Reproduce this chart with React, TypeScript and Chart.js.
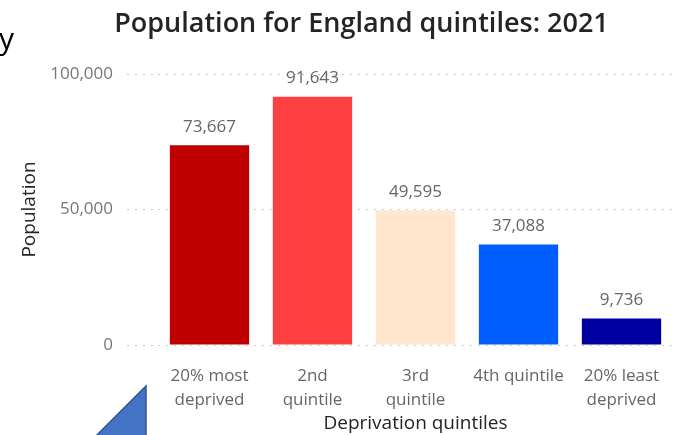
import React, { useEffect, useRef } from "react";
import { Chart, registerables } from "chart.js";

Chart.register(...registerables);

const TITLE = "Population for England quintiles: 2021";
const Y_TITLE = "Population";
const X_TITLE = "Deprivation quintiles";
const categories: string[][] = [
  ["20% most", "deprived"],
  ["2nd", "quintile"],
  ["3rd", "quintile"],
  ["4th quintile"],
  ["20% least", "deprived"],
];
const population = [73667, 91643, 49595, 37088, 9736];
const barColors = ["#C00000", "#FF4040", "#FFE6CC", "#005EFF", "#0000A0"];
const yMin = 0;
const yMax = 100000;
const yStep = 50000;

const FONT = "'Open Sans', 'Noto Sans', sans-serif";
const fmt = (v: number) => v.toLocaleString("en-US");

const valueLabels = {
  id: "valueLabels",
  afterDatasetsDraw(chart: any) {
    const ctx = chart.ctx;
    const meta = chart.getDatasetMeta(0);
    ctx.save();
    ctx.font = `17px ${FONT}`;
    ctx.fillStyle = "#666666";
    ctx.textAlign = "center";
    ctx.textBaseline = "middle";
    meta.data.forEach((bar: any, i: number) => {
      ctx.fillText(fmt(population[i]), bar.x, bar.y - 18);
    });
    ctx.restore();
  },
};

const offsetTitle = {
  id: "offsetTitle",
  afterDraw(chart: any) {
    const ctx = chart.ctx;
    ctx.save();
    ctx.font = `600 27px ${FONT}`;
    ctx.fillStyle = "#252423";
    ctx.textAlign = "center";
    ctx.textBaseline = "middle";
    ctx.fillText(TITLE, chart.width / 2 + 22, 24);
    ctx.restore();
  },
};

export default function App() {
  const ref = useRef<HTMLCanvasElement | null>(null);

  useEffect(() => {
    if (!ref.current) return;
    const chart = new Chart(ref.current, {
      type: "bar",
      data: {
        labels: categories,
        datasets: [
          {
            label: Y_TITLE,
            data: population,
            backgroundColor: barColors,
            borderWidth: 0,
            categoryPercentage: 1,
            barPercentage: 0.77,
          },
        ],
      },
      options: {
        animation: false,
        responsive: true,
        maintainAspectRatio: false,
        layout: { padding: { left: 0, right: 6, top: 74, bottom: 0 } },
        plugins: {
          legend: { display: false },
          tooltip: { enabled: false },
          title: { display: false },
        },
        scales: {
          x: {
            offset: true,
            grid: { display: false, drawTicks: false },
            border: { display: false },
            ticks: {
              color: "#666666",
              font: { family: FONT, size: 17, lineHeight: 1.4 },
              padding: 19,
              maxRotation: 0,
              autoSkip: false,
            },
            title: {
              display: true,
              text: X_TITLE,
              color: "#252423",
              font: { family: FONT, size: 19, lineHeight: 1.2 },
              padding: { top: 0, bottom: 0 },
            },
            afterFit(scale: any) {
              scale.height = 90;
            },
          },
          y: {
            min: yMin,
            max: yMax,
            ticks: {
              stepSize: yStep,
              color: "#777777",
              font: { family: FONT, size: 17 },
              padding: 14,
              callback: (v: any) => fmt(Number(v)),
            },
            grid: {
              color: "#c8c8c8",
              lineWidth: 1,
              drawTicks: true,
              tickLength: 31,
              tickColor: "#c8c8c8",
              tickBorderDash: [2, 6],
            },
            border: { display: false, dash: [2, 6] },
            title: {
              display: true,
              text: Y_TITLE,
              color: "#252423",
              font: { family: FONT, size: 19, lineHeight: 1.2 },
              padding: { top: 18, bottom: 0 },
            },
            afterFit(scale: any) {
              scale.width = 158;
            },
          },
        },
      },
      plugins: [valueLabels, offsetTitle],
    });
    return () => chart.destroy();
  }, []);

  return (
    <div
      style={{
        position: "fixed",
        left: 0,
        top: 0,
        width: 679,
        height: 435,
        background: "#ffffff",
        overflow: "hidden",
      }}
    >
      <canvas ref={ref} />
      <span
        style={{
          position: "absolute",
          left: -1,
          top: 20,
          fontFamily: FONT,
          fontSize: 30,
          color: "#000000",
          lineHeight: "36px",
        }}
      >
        y
      </span>
      <svg
        width={679}
        height={435}
        style={{ position: "absolute", left: 0, top: 0, pointerEvents: "none" }}
      >
        <polygon
          points="146,386 146,440 92,440"
          fill="#4472C4"
          stroke="#2F528F"
          strokeWidth={1.5}
        />
      </svg>
    </div>
  );
}
